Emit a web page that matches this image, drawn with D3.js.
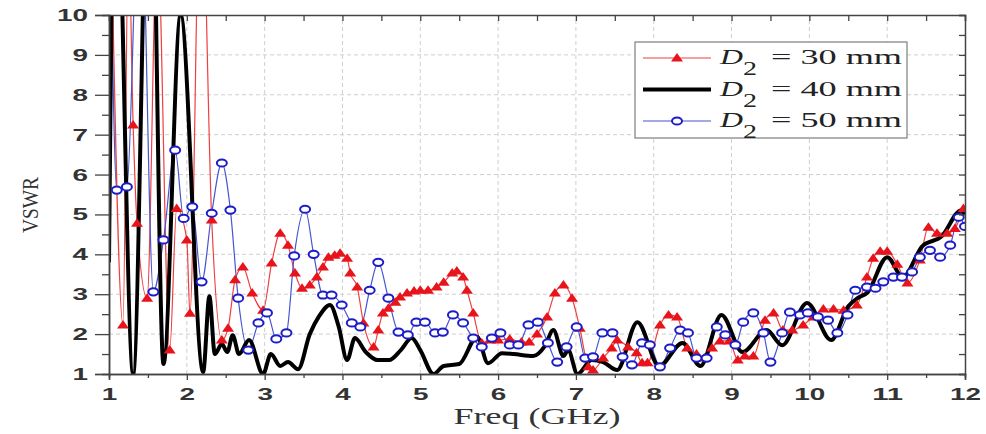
<!DOCTYPE html>
<html>
<head>
<meta charset="utf-8">
<script src="https://cdn.jsdelivr.net/npm/d3@7"></script>
<style>
body { margin: 0; background: #fff; }
</style>
</head>
<body>
<div id="chart"></div>
<script>
// values (freq in GHz, VSWR)
var red_f = [1.03, 1.18, 1.25, 1.31, 1.36, 1.49, 1.62, 1.78, 1.87, 2.0, 2.04, 2.18, 2.32, 2.45, 2.53, 2.62, 2.72, 2.84, 2.98, 3.09, 3.2, 3.3, 3.39, 3.48, 3.58, 3.67, 3.75, 3.82, 3.9, 3.97, 4.06, 4.1, 4.19, 4.27, 4.4, 4.46, 4.52, 4.59, 4.68, 4.74, 4.83, 4.92, 5.0, 5.1, 5.21, 5.3, 5.41, 5.47, 5.55, 5.6, 5.68, 5.79, 5.9, 6.0, 6.15, 6.3, 6.4, 6.5, 6.63, 6.73, 6.84, 6.95, 7.05, 7.16, 7.22, 7.35, 7.46, 7.53, 7.67, 7.78, 7.85, 7.92, 8.08, 8.19, 8.3, 8.43, 8.55, 8.65, 8.75, 8.85, 8.97, 9.08, 9.17, 9.28, 9.43, 9.54, 9.66, 9.78, 9.92, 10.05, 10.18, 10.31, 10.44, 10.61, 10.74, 10.82, 10.91, 11.0, 11.13, 11.26, 11.42, 11.53, 11.64, 11.77, 11.87, 11.98];
var red_v = [12, 2.23, 12, 7.24, 4.78, 2.9, 12, 1.6, 5.15, 4.36, 2.52, 14, 4.86, 1.85, 2.15, 3.36, 3.68, 3.03, 2.6, 3.78, 4.53, 4.23, 3.53, 3.15, 3.23, 3.43, 3.68, 3.93, 3.98, 4.03, 3.9, 3.53, 3.18, 2.28, 1.68, 2.1, 2.53, 2.65, 2.8, 2.93, 3.03, 3.08, 3.1, 3.1, 3.18, 3.3, 3.53, 3.58, 3.43, 3.1, 2.53, 1.78, 1.85, 1.85, 1.88, 1.8, 1.8, 2.0, 2.43, 3.03, 3.23, 2.9, 2.15, 1.18, 1.1, 1.4, 1.65, 1.85, 1.68, 1.53, 1.28, 1.28, 2.23, 2.48, 2.43, 1.65, 1.5, 1.4, 1.65, 1.83, 1.83, 1.35, 1.45, 1.45, 2.35, 2.53, 2.1, 2.1, 2.23, 2.43, 2.63, 2.63, 2.6, 2.73, 3.43, 3.9, 4.08, 4.08, 3.75, 3.28, 3.86, 4.68, 4.53, 4.53, 4.65, 5.15];

var black_f = [1.0, 1.08, 1.31, 1.53, 1.70, 1.92, 2.21, 2.29, 2.36, 2.45, 2.52, 2.59, 2.67, 2.8, 2.98, 3.08, 3.2, 3.3, 3.43, 3.58, 3.7, 3.84, 3.95, 4.06, 4.16, 4.3, 4.45, 4.6, 4.75, 4.89, 5.0, 5.17, 5.3, 5.5, 5.73, 5.87, 6.05, 6.2, 6.45, 6.6, 6.71, 6.84, 6.9, 7.02, 7.2, 7.35, 7.53, 7.79, 8.07, 8.37, 8.6, 8.87, 9.14, 9.45, 9.65, 9.97, 10.28, 10.5, 10.62, 10.75, 11.0, 11.2, 11.45, 11.7, 11.95, 12.0];
var black_v = [3.8, 15, 1.0, 16, 1.25, 10.0, 1.05, 2.95, 1.5, 1.75, 1.55, 1.97, 1.5, 1.85, 1.0, 1.5, 1.2, 1.3, 1.12, 2.0, 2.45, 2.73, 2.2, 1.35, 1.9, 1.55, 1.35, 1.35, 1.6, 1.9, 1.6, 1.0, 1.2, 1.25, 1.93, 1.27, 1.52, 1.5, 1.45, 1.7, 2.1, 1.45, 1.6, 1.0, 1.35, 1.3, 1.1, 2.3, 1.2, 1.78, 1.2, 2.48, 1.55, 2.1, 1.72, 2.78, 1.85, 2.7, 2.9, 3.05, 3.93, 3.43, 4.2, 4.45, 5.1, 5.0];

var blue_f = [1.02, 1.1, 1.23, 1.4, 1.57, 1.7, 1.85, 1.96, 2.07, 2.19, 2.32, 2.45, 2.56, 2.66, 2.79, 2.92, 3.03, 3.15, 3.28, 3.38, 3.52, 3.63, 3.75, 3.86, 3.99, 4.12, 4.23, 4.35, 4.46, 4.59, 4.72, 4.84, 4.95, 5.06, 5.19, 5.29, 5.42, 5.55, 5.68, 5.79, 5.92, 6.03, 6.15, 6.26, 6.39, 6.51, 6.64, 6.76, 6.88, 7.01, 7.12, 7.22, 7.34, 7.47, 7.6, 7.72, 7.85, 7.95, 8.08, 8.21, 8.34, 8.44, 8.55, 8.68, 8.81, 8.92, 9.05, 9.15, 9.28, 9.41, 9.5, 9.65, 9.75, 9.88, 9.98, 10.11, 10.24, 10.36, 10.49, 10.59, 10.74, 10.85, 10.95, 11.08, 11.19, 11.32, 11.42, 11.55, 11.68, 11.81, 11.92, 12.0];
var blue_v = [12, 5.61, 5.69, 14, 3.06, 4.36, 6.61, 4.9, 5.19, 3.31, 5.03, 6.29, 5.11, 2.9, 1.6, 2.28, 2.53, 1.88, 2.03, 3.96, 5.13, 4.0, 2.98, 2.98, 2.73, 2.28, 2.18, 3.1, 3.8, 2.9, 2.05, 1.98, 2.3, 2.3, 2.03, 2.05, 2.48, 2.28, 1.9, 1.68, 1.9, 2.03, 1.73, 1.73, 2.23, 2.3, 1.78, 1.3, 1.68, 2.18, 1.4, 1.43, 2.03, 2.03, 1.43, 1.23, 1.78, 1.73, 1.18, 1.65, 2.1, 2.03, 1.4, 1.4, 2.18, 1.98, 1.73, 2.3, 2.53, 2.03, 1.3, 2.03, 2.55, 2.48, 2.53, 2.43, 2.35, 2.03, 2.48, 3.1, 3.18, 3.15, 3.31, 3.43, 3.43, 3.56, 3.93, 4.1, 3.93, 4.23, 4.93, 4.7];

var legend_labels = ["= 30 mm", "= 40 mm", "= 50 mm"];
var x_ticks = d3.range(1, 13);
var y_ticks = d3.range(1, 11);

function zip(f, v) {
    return f.map((d, i) => [d, v[i]]);
}

function vswr() {
    var width = 986, height = 434;
    var margin = {top: 15, right: 21, bottom: 60, left: 109};

    var svg = d3.select("#chart")
                .append("svg")
                .attr("width", width)
                .attr("height", height)
                .style("background", "#fff");

    var x = d3.scaleLinear().domain([1, 12]).range([margin.left, width - margin.right]);
    var y = d3.scaleLinear().domain([1, 10]).range([height - margin.bottom, margin.top]);

    // dashed grid
    svg.append("g")
        .selectAll("line")
        .data(x_ticks.slice(1, -1))
        .join("line")
        .attr("x1", d => x(d)).attr("x2", d => x(d))
        .attr("y1", y(1)).attr("y2", y(10))
        .attr("stroke", "#cfcfcf").attr("stroke-dasharray", "4,3");
    svg.append("g")
        .selectAll("line")
        .data(y_ticks.slice(1, -1))
        .join("line")
        .attr("y1", d => y(d)).attr("y2", d => y(d))
        .attr("x1", x(1)).attr("x2", x(12))
        .attr("stroke", "#cfcfcf").attr("stroke-dasharray", "4,3");

    svg.append("clipPath").attr("id", "clip")
        .append("rect")
        .attr("x", x(1)).attr("y", y(10))
        .attr("width", x(12) - x(1)).attr("height", y(1) - y(10));

    var plot = svg.append("g").attr("clip-path", "url(#clip)");

    var line = d3.line()
                .x(d => x(d[0]))
                .y(d => y(d[1]))
                .curve(d3.curveMonotoneX);

    var red = zip(red_f, red_v), black = zip(black_f, black_v), blue = zip(blue_f, blue_v);

    plot.append("path").datum(red).attr("d", line)
        .attr("fill", "none").attr("stroke", "#ee4040").attr("stroke-width", 1.2);
    plot.append("path").datum(blue).attr("d", line)
        .attr("fill", "none").attr("stroke", "#4655d0").attr("stroke-width", 1.2);
    plot.append("path").datum(black).attr("d", line)
        .attr("fill", "none").attr("stroke", "#000").attr("stroke-width", 4);

    var tri = "M0,-5L6,3.5L-6,3.5Z";
    plot.selectAll(".tri")
        .data(red)
        .join("path")
        .attr("class", "tri")
        .attr("transform", d => "translate(" + x(d[0]) + "," + y(d[1]) + ")")
        .attr("d", tri)
        .attr("fill", "#e8141c");

    plot.selectAll(".circ")
        .data(blue)
        .join("ellipse")
        .attr("class", "circ")
        .attr("cx", d => x(d[0]))
        .attr("cy", d => y(d[1]))
        .attr("rx", 5).attr("ry", 3.6)
        .attr("fill", "#fff")
        .attr("stroke", "#1c1cc8")
        .attr("stroke-width", 2);

    // axes
    var axisColor = "#444";
    function styleAxis(g) {
        g.select(".domain").attr("stroke", axisColor).attr("stroke-width", 1.5);
        g.selectAll(".tick line").attr("stroke", axisColor).attr("stroke-width", 1.3);
    }
    function styleLabels(g) {
        g.selectAll(".tick text")
            .style("font-family", "'Liberation Sans', Arial, sans-serif")
            .style("font-size", "17px")
            .style("font-weight", "bold")
            .attr("fill", "#333")
            .attr("textLength", function() { return this.textContent.length * 15.5; })
            .attr("lengthAdjust", "spacingAndGlyphs");
    }

    var halfX = d3.range(1.5, 12, 1), halfY = d3.range(1.5, 10, 1);

    svg.append("g")
        .attr("transform", "translate(0," + y(1) + ")")
        .call(d3.axisBottom(x).tickValues(halfX).tickSize(4).tickFormat(""))
        .call(styleAxis);
    svg.append("g")
        .attr("transform", "translate(0," + y(1) + ")")
        .call(d3.axisBottom(x).tickValues(x_ticks).tickSize(6).tickPadding(8).tickFormat(d3.format("d")))
        .call(styleAxis).call(styleLabels);

    svg.append("g")
        .attr("transform", "translate(" + x(1) + ",0)")
        .call(d3.axisLeft(y).tickValues(halfY).tickSize(7).tickFormat(""))
        .call(styleAxis);
    svg.append("g")
        .attr("transform", "translate(" + x(1) + ",0)")
        .call(d3.axisLeft(y).tickValues(y_ticks).tickSize(14).tickPadding(7).tickFormat(d3.format("d")))
        .call(styleAxis).call(styleLabels);

    svg.append("g")
        .attr("transform", "translate(0," + y(10) + ")")
        .call(d3.axisBottom(x).tickValues(d3.range(1, 12.01, 0.5)).tickSize(6).tickFormat(""))
        .call(styleAxis);
    svg.append("g")
        .attr("transform", "translate(" + x(12) + ",0)")
        .call(d3.axisLeft(y).tickValues(d3.range(1, 10.01, 0.5)).tickSize(6).tickFormat(""))
        .call(styleAxis);

    // axis titles
    svg.append("text")
        .attr("x", (x(1) + x(12)) / 2)
        .attr("y", 424)
        .attr("text-anchor", "middle")
        .attr("textLength", 167)
        .attr("lengthAdjust", "spacingAndGlyphs")
        .style("font-family", "'Liberation Serif', 'Times New Roman', serif")
        .style("font-size", "23px")
        .attr("fill", "#333")
        .text("Freq (GHz)");

    svg.append("text")
        .attr("transform", "translate(38," + 205 + ") rotate(-90)")
        .attr("text-anchor", "middle")
        .attr("textLength", 56)
        .attr("lengthAdjust", "spacingAndGlyphs")
        .style("font-family", "'Liberation Serif', 'Times New Roman', serif")
        .style("font-size", "24px")
        .attr("fill", "#333")
        .text("VSWR");

    // legend
    var lg = svg.append("g");
    lg.append("rect")
        .attr("x", 635).attr("y", 42)
        .attr("width", 272).attr("height", 96)
        .attr("fill", "#fff")
        .attr("stroke", "#888").attr("stroke-width", 1.3);

    var styles = [
        {stroke: "#ee4040", w: 1.2, marker: "tri"},
        {stroke: "#000", w: 4, marker: null},
        {stroke: "#4655d0", w: 1.2, marker: "circ"}
    ];

    legend_labels.forEach(function(lab, i) {
        var ly = 58 + i * 31.5;
        var s = styles[i];
        lg.append("line")
            .attr("x1", 643).attr("x2", 711)
            .attr("y1", ly).attr("y2", ly)
            .attr("stroke", s.stroke).attr("stroke-width", s.w);
        if (s.marker == "tri") {
            lg.append("path").attr("d", tri)
                .attr("transform", "translate(677," + ly + ")")
                .attr("fill", "#e8141c");
        } else if (s.marker == "circ") {
            lg.append("ellipse").attr("cx", 677).attr("cy", ly)
                .attr("rx", 5).attr("ry", 3.6)
                .attr("fill", "#fff").attr("stroke", "#1c1cc8").attr("stroke-width", 2);
        }
        var font = "'Liberation Serif', 'Times New Roman', serif";
        lg.append("text")
            .attr("x", 720).attr("y", ly + 6)
            .attr("textLength", 23).attr("lengthAdjust", "spacingAndGlyphs")
            .style("font-family", font).style("font-style", "italic").style("font-size", "21px")
            .attr("fill", "#222")
            .text("D");
        lg.append("text")
            .attr("x", 743).attr("y", ly + 17)
            .attr("textLength", 14).attr("lengthAdjust", "spacingAndGlyphs")
            .style("font-family", font).style("font-size", "18px")
            .attr("fill", "#222")
            .text("2");
        lg.append("text")
            .attr("x", 771).attr("y", ly + 6)
            .attr("textLength", 131).attr("lengthAdjust", "spacingAndGlyphs")
            .style("font-family", font).style("font-size", "21px")
            .attr("fill", "#222")
            .text(lab);
    });
}

vswr();
</script>
</body>
</html>
